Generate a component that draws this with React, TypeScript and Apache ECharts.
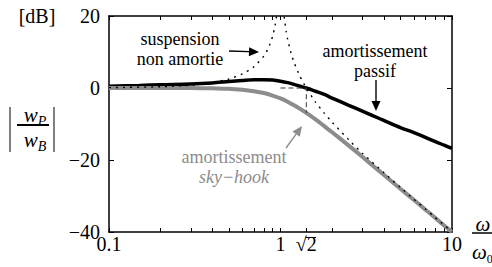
import React, { useEffect, useRef } from "react";
import * as echarts from "echarts";

// frequency ratio omega/omega0
const ratio = [0.1, 0.15, 0.2, 0.3, 0.4, 0.5, 0.6, 0.7, 0.8, 0.9, 1.0, 1.1, 1.2, 1.3, 1.414, 1.6, 1.8, 2, 2.5, 3, 3.5, 4, 5, 6, 7, 8, 9, 10];
// amortissement passif [dB]
const passiveDb = [0.5, 0.7, 0.9, 1.1, 1.4, 1.8, 2.1, 2.3, 2.3, 2.2, 1.9, 1.5, 1.0, 0.5, 0, -0.9, -1.8, -2.8, -4.8, -6.4, -7.8, -9.0, -11.0, -12.4, -13.7, -14.9, -15.9, -16.8];
// amortissement sky-hook [dB]
const skyhookDb = [0, 0, 0, 0, -0.1, -0.2, -0.5, -0.9, -1.4, -2.1, -2.9, -3.8, -4.8, -5.8, -6.9, -8.7, -10.6, -12.3, -16.0, -19.1, -21.8, -24.1, -28.0, -31.1, -33.8, -36.1, -38.2, -40.0];
// suspension non amortie
const undampedRatio = [0.1, 0.2, 0.3, 0.4, 0.5, 0.6, 0.7, 0.8, 0.85, 0.9, 0.93, 0.95, 1.0, 1.05, 1.08, 1.1, 1.15, 1.2, 1.3, 1.414, 1.6, 1.8, 2, 2.5, 3, 4, 5, 6, 7, 8, 9, 10];
const undampedDb = [0.1, 0.35, 0.8, 1.5, 2.5, 3.9, 5.9, 8.9, 11.1, 14.4, 17.4, 20.2, null, 19.8, 15.6, 13.6, 9.8, 7.1, 3.2, 0, -3.9, -7.0, -9.5, -14.4, -18.1, -23.5, -27.6, -30.9, -33.6, -36.0, -38.1, -39.9];
// dashed guide at (sqrt2, 0 dB)
const guideRatio = [1, 1.414, 1.414];
const guideDb = [0, 0, -6.9];

const xTickValues = [0.1, 0.2, 0.3, 0.4, 0.5, 0.6, 0.7, 0.8, 0.9, 1, 1.414, 2, 3, 4, 5, 6, 7, 8, 9, 10];
const xLabelValues = [0.1, 1, 1.414, 10];
const yMin = -40;
const yMax = 20;
const yInterval = 20;

const SERIF = "Liberation Serif";
const GRAY = "#8c8c8c";

function pairs(xs: number[], ys: (number | null)[]) {
  return xs.map((x, i) => [x, ys[i]]);
}

function arrow(x1: number, y1: number, x2: number, y2: number, color: string) {
  const dx = x2 - x1;
  const dy = y2 - y1;
  const len = Math.sqrt(dx * dx + dy * dy);
  const ux = dx / len;
  const uy = dy / len;
  const hl = 10;
  const hw = 4.5;
  const bx = x2 - ux * hl;
  const by = y2 - uy * hl;
  return [
    {
      type: "line",
      shape: { x1, y1, x2: bx, y2: by },
      style: { stroke: color, lineWidth: 1.4 },
      silent: true,
    },
    {
      type: "polygon",
      shape: {
        points: [
          [x2, y2],
          [bx - uy * hw, by + ux * hw],
          [bx + uy * hw, by - ux * hw],
        ],
      },
      style: { fill: color },
      silent: true,
    },
  ];
}

function txt(text: string, x: number, y: number, opts: any = {}) {
  return {
    type: "text",
    x,
    y,
    silent: true,
    style: {
      text,
      fontFamily: SERIF,
      fontSize: opts.fontSize ?? 18,
      fontStyle: opts.fontStyle ?? "normal",
      fontWeight: "normal",
      fill: opts.color ?? "#000",
      align: opts.align ?? "center",
      verticalAlign: "middle",
      lineHeight: opts.lineHeight,
      rich: opts.rich,
    },
  };
}

function xLabel(v: number) {
  if (Math.abs(v - 1.414) < 0.01) return "√2";
  if (Math.abs(v - 0.1) < 0.001) return "0.1";
  if (Math.abs(v - 1) < 0.001) return "1";
  if (Math.abs(v - 10) < 0.001) return "10";
  return "";
}

function yLabel(v: number) {
  return v < 0 ? "\u2212" + Math.abs(v) : String(v);
}

const mathRich = {
  w: { fontFamily: SERIF, fontSize: 21, fontStyle: "italic", color: "#000", lineHeight: 22, verticalAlign: "bottom" },
  s: { fontFamily: SERIF, fontSize: 14, fontStyle: "italic", color: "#000", lineHeight: 22, verticalAlign: "bottom", padding: [0, 0, -3, 0] },
  z: { fontFamily: SERIF, fontSize: 12, color: "#000", lineHeight: 22, verticalAlign: "bottom", padding: [0, 0, -3, 0] },
};

export default function App() {
  const ref = useRef<HTMLDivElement>(null);
  useEffect(() => {
    if (!ref.current) return;
    const chart = echarts.init(ref.current, undefined, { renderer: "svg" });
    const axisLine = { show: true, onZero: false, lineStyle: { color: "#000", width: 1.5 } };
    const tickStyle = { color: "#000", width: 1 };
    chart.setOption({
      animation: false,
      backgroundColor: "#fff",
      textStyle: { fontFamily: SERIF },
      grid: { left: 109, right: 40, top: 16, bottom: 35, containLabel: false },
      xAxis: [
        {
          type: "log",
          logBase: 10,
          min: 0.1,
          max: 10,
          position: "bottom",
          axisLine,
          axisTick: { show: true, inside: true, length: 4, customValues: xTickValues, lineStyle: tickStyle },
          axisLabel: {
            customValues: xLabelValues,
            formatter: (v: number) => xLabel(v),
            fontFamily: SERIF,
            fontSize: 20,
            color: "#000",
            margin: 2,
            showMinLabel: true,
            showMaxLabel: true,
          },
          splitLine: { show: false },
          minorTick: { show: false },
        },
        {
          type: "log",
          logBase: 10,
          min: 0.1,
          max: 10,
          position: "top",
          axisLine,
          axisTick: { show: true, inside: true, length: 4, customValues: xTickValues, lineStyle: tickStyle },
          axisLabel: { show: false },
          splitLine: { show: false },
        },
      ],
      yAxis: [
        {
          type: "value",
          min: yMin,
          max: yMax,
          interval: yInterval,
          position: "left",
          axisLine,
          axisTick: { show: true, inside: true, length: 5, lineStyle: tickStyle },
          axisLabel: {
            formatter: (v: number) => yLabel(v),
            fontFamily: SERIF,
            fontSize: 20,
            color: "#000",
            margin: 9,
          },
          splitLine: { show: false },
        },
        {
          type: "value",
          min: yMin,
          max: yMax,
          interval: yInterval,
          position: "right",
          axisLine,
          axisTick: { show: true, inside: true, length: 5, lineStyle: tickStyle },
          axisLabel: { show: false },
          splitLine: { show: false },
        },
      ],
      series: [
        {
          name: "amortissement passif",
          type: "line",
          data: pairs(ratio, passiveDb),
          smooth: 0.3,
          showSymbol: false,
          lineStyle: { color: "#000", width: 3.5 },
          z: 2,
        },
        {
          name: "amortissement sky-hook",
          type: "line",
          data: pairs(ratio, skyhookDb),
          smooth: 0.3,
          showSymbol: false,
          lineStyle: { color: GRAY, width: 4 },
          z: 3,
        },
        {
          name: "suspension non amortie",
          type: "line",
          data: pairs(undampedRatio, undampedDb),
          smooth: 0.2,
          connectNulls: false,
          showSymbol: false,
          clip: true,
          lineStyle: { color: "#000", width: 1.4, type: [2, 5] },
          z: 4,
        },
        {
          name: "guide",
          type: "line",
          data: pairs(guideRatio, guideDb),
          showSymbol: false,
          lineStyle: { color: "#333", width: 1, type: [5, 3] },
          z: 5,
        },
      ],
      graphic: [
        txt("[dB]", 37, 16, { fontSize: 20 }),
        // |wP / wB|
        { type: "line", shape: { x1: 10, y1: 107, x2: 10, y2: 152 }, style: { stroke: "#000", lineWidth: 1 }, silent: true },
        { type: "line", shape: { x1: 54, y1: 107, x2: 54, y2: 152 }, style: { stroke: "#000", lineWidth: 1 }, silent: true },
        { type: "line", shape: { x1: 17, y1: 125, x2: 49, y2: 125 }, style: { stroke: "#000", lineWidth: 2 }, silent: true },
        txt("{w|w}{s|P}", 35, 114, { rich: mathRich }),
        txt("{w|w}{s|B}", 35, 139, { rich: mathRich }),
        // sqrt overline
        { type: "line", shape: { x1: 305.5, y1: 237.5, x2: 316, y2: 237.5 }, style: { stroke: "#000", lineWidth: 1 }, silent: true },
        // omega / omega0
        txt("{w|ω}", 483, 223, { rich: mathRich }),
        { type: "line", shape: { x1: 472, y1: 233, x2: 492, y2: 233 }, style: { stroke: "#000", lineWidth: 1.5 }, silent: true },
        txt("{w|ω}{z|0}", 472, 251, { rich: mathRich, align: "left" }),
        // annotations
        txt("suspension\nnon amortie", 180, 49, { lineHeight: 20 }),
        ...arrow(229, 51, 259, 52, "#000"),
        txt("amortissement\npassif", 375, 61, { lineHeight: 20 }),
        ...arrow(376, 80, 376, 111, "#000"),
        txt("{a|amortissement}\n{b|sky\u2212hook}", 234, 166.5, {
          color: GRAY,
          lineHeight: 20,
          rich: {
            a: { fontFamily: SERIF, fontSize: 18, color: GRAY, lineHeight: 20 },
            b: { fontFamily: SERIF, fontSize: 18, fontStyle: "italic", color: GRAY, lineHeight: 20 },
          },
        }),
        ...arrow(286, 148, 302, 126, GRAY),
      ],
    });
    return () => chart.dispose();
  }, []);
  return (
    <div
      ref={ref}
      style={{ position: "absolute", left: 0, top: 0, width: 492, height: 267 }}
    />
  );
}
